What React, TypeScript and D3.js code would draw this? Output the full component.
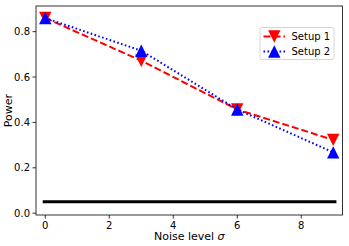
import { useRef, useEffect } from 'react'
import * as d3 from 'd3'

const noiseLevels = [0, 3, 6, 9]
const setup1 = [0.86, 0.672, 0.457, 0.323]
const setup2 = [0.86, 0.716, 0.457, 0.268]
const baseline = 0.05
const baselineRange = [-0.08, 9.1]
const xTicks = [0, 2, 4, 6, 8]
const yTicks = [0, 0.2, 0.4, 0.6, 0.8]
const seriesNames = ['Setup 1', 'Setup 2']

// matplotlib-style triangle: width == height
const triPath = (down: boolean, r = 6.2) =>
  down
    ? `M0,${r}L${-r},${-r}L${r},${-r}Z`
    : `M0,${-r}L${-r},${r}L${r},${r}Z`

const App = () => {
  const svgRef = useRef<SVGSVGElement>(null)

  useEffect(() => {
    if (!svgRef.current) return
    const svg = d3.select(svgRef.current)
    svg.selectAll('*').remove()

    const width = 349
    const height = 246
    const margin = { top: 6, right: 6.5, bottom: 31, left: 36 }
    const w = width - margin.left - margin.right
    const h = height - margin.top - margin.bottom
    const font = 'DejaVu Sans, sans-serif'

    const x = d3.scaleLinear().domain([-0.29, 9.29]).range([0, w])
    const y = d3.scaleLinear().domain([-0.008, 0.913]).range([h, 0])

    const g = svg.append('g').attr('transform', `translate(${margin.left},${margin.top})`)

    // baseline
    g.append('line')
      .attr('x1', x(baselineRange[0])).attr('x2', x(baselineRange[1]))
      .attr('y1', y(baseline)).attr('y2', y(baseline))
      .attr('stroke', '#000').attr('stroke-width', 3)

    const series = [
      { vals: setup1, color: '#ff0000', dash: '7,3', down: true },
      { vals: setup2, color: '#0000ff', dash: '1.6,2.4', down: false },
    ]
    const line = d3.line<number>().x((_, i) => x(noiseLevels[i])).y(d => y(d))

    series.forEach(s => {
      g.append('path')
        .attr('d', line(s.vals))
        .attr('fill', 'none')
        .attr('stroke', s.color)
        .attr('stroke-width', 2)
        .attr('stroke-dasharray', s.dash)
      g.selectAll(null)
        .data(s.vals)
        .join('path')
        .attr('d', triPath(s.down))
        .attr('transform', (d, i) => `translate(${x(noiseLevels[i])},${y(d)})`)
        .attr('fill', s.color)
    })

    // frame
    g.append('rect')
      .attr('width', w).attr('height', h)
      .attr('fill', 'none').attr('stroke', '#000').attr('stroke-width', 0.8)

    xTicks.forEach(t => {
      g.append('line').attr('x1', x(t)).attr('x2', x(t)).attr('y1', h).attr('y2', h + 3.5)
        .attr('stroke', '#000').attr('stroke-width', 0.8)
      g.append('text').attr('x', x(t)).attr('y', h + 14).attr('text-anchor', 'middle')
        .attr('font-family', font).attr('font-size', 10).text(t)
    })
    yTicks.forEach(t => {
      g.append('line').attr('x1', -3.5).attr('x2', 0).attr('y1', y(t)).attr('y2', y(t))
        .attr('stroke', '#000').attr('stroke-width', 0.8)
      g.append('text').attr('x', -6).attr('y', y(t)).attr('dy', '0.35em').attr('text-anchor', 'end')
        .attr('font-family', font).attr('font-size', 10).text(t.toFixed(1))
    })

    const xl = svg.append('text').attr('x', margin.left + w / 2).attr('y', 240)
      .attr('text-anchor', 'middle').attr('font-family', font).attr('font-size', 11)
    xl.append('tspan').text('Noise level ')
    xl.append('tspan').attr('font-style', 'italic').text('σ')

    svg.append('text').attr('transform', `translate(12,${margin.top + h / 2}) rotate(-90)`)
      .attr('text-anchor', 'middle').attr('font-family', font).attr('font-size', 11).text('Power')

    // legend
    const lg = svg.append('g').attr('transform', 'translate(260,27.5)')
    lg.append('rect').attr('width', 74).attr('height', 32).attr('rx', 2)
      .attr('fill', '#fff').attr('fill-opacity', 0.8).attr('stroke', '#ccc').attr('stroke-width', 0.8)
    series.forEach((s, i) => {
      const cy = 9 + i * 15
      lg.append('line').attr('x1', 3.5).attr('x2', 25).attr('y1', cy).attr('y2', cy)
        .attr('stroke', s.color).attr('stroke-width', 2).attr('stroke-dasharray', s.dash)
      lg.append('path').attr('d', triPath(s.down))
        .attr('transform', `translate(14.3,${cy})`).attr('fill', s.color)
      lg.append('text').attr('x', 31.5).attr('y', cy).attr('dy', '0.35em')
        .attr('font-family', font).attr('font-size', 10).text(seriesNames[i])
    })
  }, [])

  return (
    <svg ref={svgRef} width={349} height={246}
      style={{ position: 'absolute', left: 0, top: 0 }} />
  )
}

export default App
